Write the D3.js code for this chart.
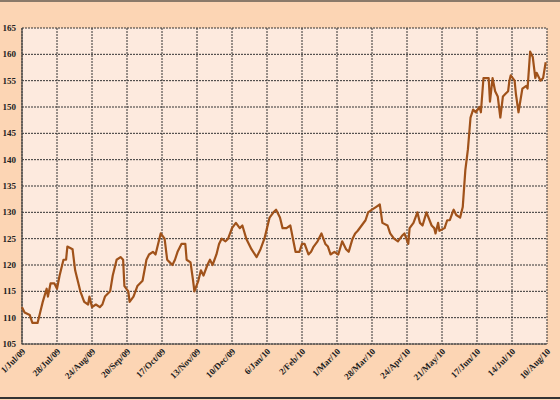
<!DOCTYPE html><html><head><meta charset="utf-8"><script src="https://cdn.jsdelivr.net/npm/d3@7"></script>
<style>body{margin:0;background:#fcd5b4}</style></head><body><svg id="c" width="560" height="400"></svg><script>
const days=[0,2,6,8,12,14,16,19,20,22,25,27,29,32,34,35,39,41,43,45,48,51,52,54,57,60,62,64,68,70,73,76,78,79,82,83,86,89,93,96,98,101,103,105,107,110,112,114,116,118,120,123,126,127,130,132,133,136,138,140,143,145,147,150,152,154,157,159,162,165,168,170,173,175,177,181,184,187,189,191,194,196,199,201,204,207,209,211,214,216,218,221,223,225,228,231,234,236,238,241,244,247,250,252,255,257,259,262,265,267,270,273,276,278,282,284,287,290,293,295,298,299,302,305,307,309,312,316,318,319,321,322,326,328,330,333,335,338,340,342,344,346,348,350,353,354,356,360,361,363,365,367,369,371,373,375,376,377,380,381,383,386,389,390,392,394,396,397,400,402,404];
const values=[112,111,110.5,109,109,111,113,115.5,114,116.5,116.5,115.5,118,121,121,123.5,123,119,117,115,113,112.5,114,112,112.5,112,112.5,114,115,118,121,121.5,121,116,115,113,114,116,117,121,122,122.5,122,124,126,125,121,120.5,120,121,122.5,124,124,121,120.5,117,115,117,119,118,120,121,120,122,124,125,124.5,125,127,128,127,127.5,125,124,123,121.5,123,125,127,129,130,130.5,129,127,127,127.5,125,122.5,122.5,124,124,122,122.5,123.5,124.5,126,124,123.5,122,122.5,122,124.5,123,122.5,125,126,126.5,127.5,128.5,130,130.5,131,131.5,128,127.5,126,125,124.5,125.5,126,124,127,128,130,128,127.5,130,127.5,127,126,128,126.5,127,128.5,128.5,130.5,129.5,129,131,138,142,148,149.5,149,150,149,155.5,155.5,151,155.5,153,152,148,152,152.5,153,155,156,155,152.5,149,153.5,154,153.5,160.5,159.5,155.5,156.5,155,155.5,158.5];
const yTicks=[105,110,115,120,125,130,135,140,145,150,155,160,165];
const start=new Date(2009,6,1);
const svg=d3.select("#c");
svg.append("rect").attr("width",560).attr("height",400).attr("fill","#fcd5b4");
svg.append("line").attr("x1",0).attr("x2",560).attr("y1",1).attr("y2",1).attr("stroke","#8a7a6a").attr("stroke-width",2);
svg.append("line").attr("x1",0).attr("x2",560).attr("y1",398).attr("y2",398).attr("stroke","#333").attr("stroke-width",2);
const L=22,R=547,T=28,B=344;
const x=d3.scaleTime().domain([start,d3.timeDay.offset(start,405)]).range([L,R]);
const y=d3.scaleLinear().domain([105,165]).range([B,T]);
svg.append("rect").attr("x",L).attr("y",T).attr("width",R-L).attr("height",B-T).attr("fill","#fdeade");
const xt=d3.range(0,406,27).map(d=>d3.timeDay.offset(start,d));
const g=svg.append("g");
g.selectAll("line.v").data(xt).join("line").attr("x1",d=>x(d)).attr("x2",d=>x(d)).attr("y1",T).attr("y2",B).attr("stroke","#333").attr("stroke-dasharray","2,1").attr("stroke-width",1);
g.selectAll("line.h").data(yTicks).join("line").attr("x1",L).attr("x2",R).attr("y1",d=>y(d)).attr("y2",d=>y(d)).attr("stroke","#333").attr("stroke-dasharray","2,1").attr("stroke-width",1);
svg.append("path").attr("d",`M${L},${T}V${B}H${R}`).attr("fill","none").attr("stroke","#444").attr("stroke-width",1.2);
const font="'Liberation Serif','Times New Roman',serif";
svg.selectAll("text.y").data(yTicks).join("text").attr("x",L-6).attr("y",d=>y(d)+3).attr("text-anchor","end").attr("font-family",font).attr("font-weight","bold").attr("font-size",9).attr("fill","#222").text(d=>d);
const fmt=d3.timeFormat("%-d/%b/%y");
svg.selectAll("text.x").data(xt).join("text").attr("transform",d=>`translate(${x(d)+4},${B+8}) rotate(-45)`).attr("text-anchor","end").attr("font-family",font).attr("font-weight","bold").attr("font-size",9).attr("fill","#222").text(d=>fmt(d));
const pts=days.map((d,i)=>[d3.timeDay.offset(start,d),values[i]]);
svg.append("path").datum(pts).attr("d",d3.line().x(d=>x(d[0])).y(d=>y(d[1]))).attr("fill","none").attr("stroke","#a0521a").attr("stroke-width",2.2).attr("stroke-linejoin","round");
</script></body></html>
